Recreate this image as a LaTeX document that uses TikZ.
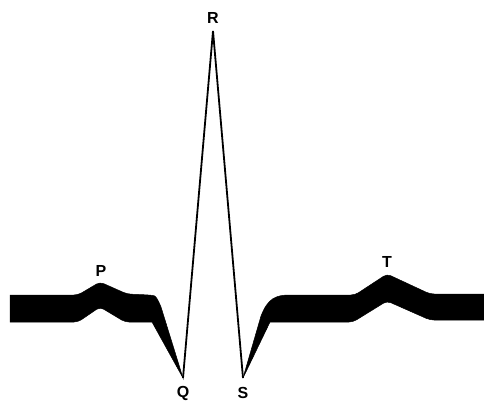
\documentclass[tikz,border=0pt]{standalone}
\usepackage{fontspec}
\setmainfont{Liberation Sans}
\begin{document}
\begin{tikzpicture}[x=1pt,y=-1pt,
  band/.style={fill=black, draw=black, line width=0.5pt},
  wave/.style={draw=black, line width=1.8pt, line join=miter},
  lbl/.style={font=\bfseries\fontsize{16}{16}\selectfont, inner sep=0pt}]
\useasboundingbox (0,0) rectangle (484,403);
\coordinate (Q) at (183,378);
\coordinate (R) at (213,31);
\coordinate (S) at (243,378);
% left band (baseline, P wave, descent to Q)
\fill[band] (10,295) [rounded corners=4pt] -- (78,295) -- (100,282) -- (127,294) -- (150,295)
  [sharp corners] .. controls (156,296) and (158,300) .. (161,307) -- (Q)
  -- (152,322) [rounded corners=4pt] -- (125,322) -- (100,307) -- (78,322) [sharp corners] -- (10,322) -- cycle;
% right band (rise from S, T wave, baseline)
\fill[band] (S) -- (261,316) .. controls (268,298) and (276,295) .. (290,295)
  [rounded corners=4pt] -- (355,295) -- (387,274) -- (430,294)
  [sharp corners] -- (484,294) -- (484,320) [rounded corners=4pt] -- (430,320) -- (387,301) -- (353,322)
  [sharp corners] -- (270,322) -- cycle;
% QRS complex
\draw[wave] (Q) -- (R) -- (S);
% labels
\node[lbl] (lP) at (101,271) {P};
\node[lbl] (lR) at (213,18) {R};
\node[lbl] (lQ) at (183,393) {Q};
\node[lbl] (lS) at (243,393) {S};
\node[lbl] (lT) at (387,262) {T};
\end{tikzpicture}
\end{document}
